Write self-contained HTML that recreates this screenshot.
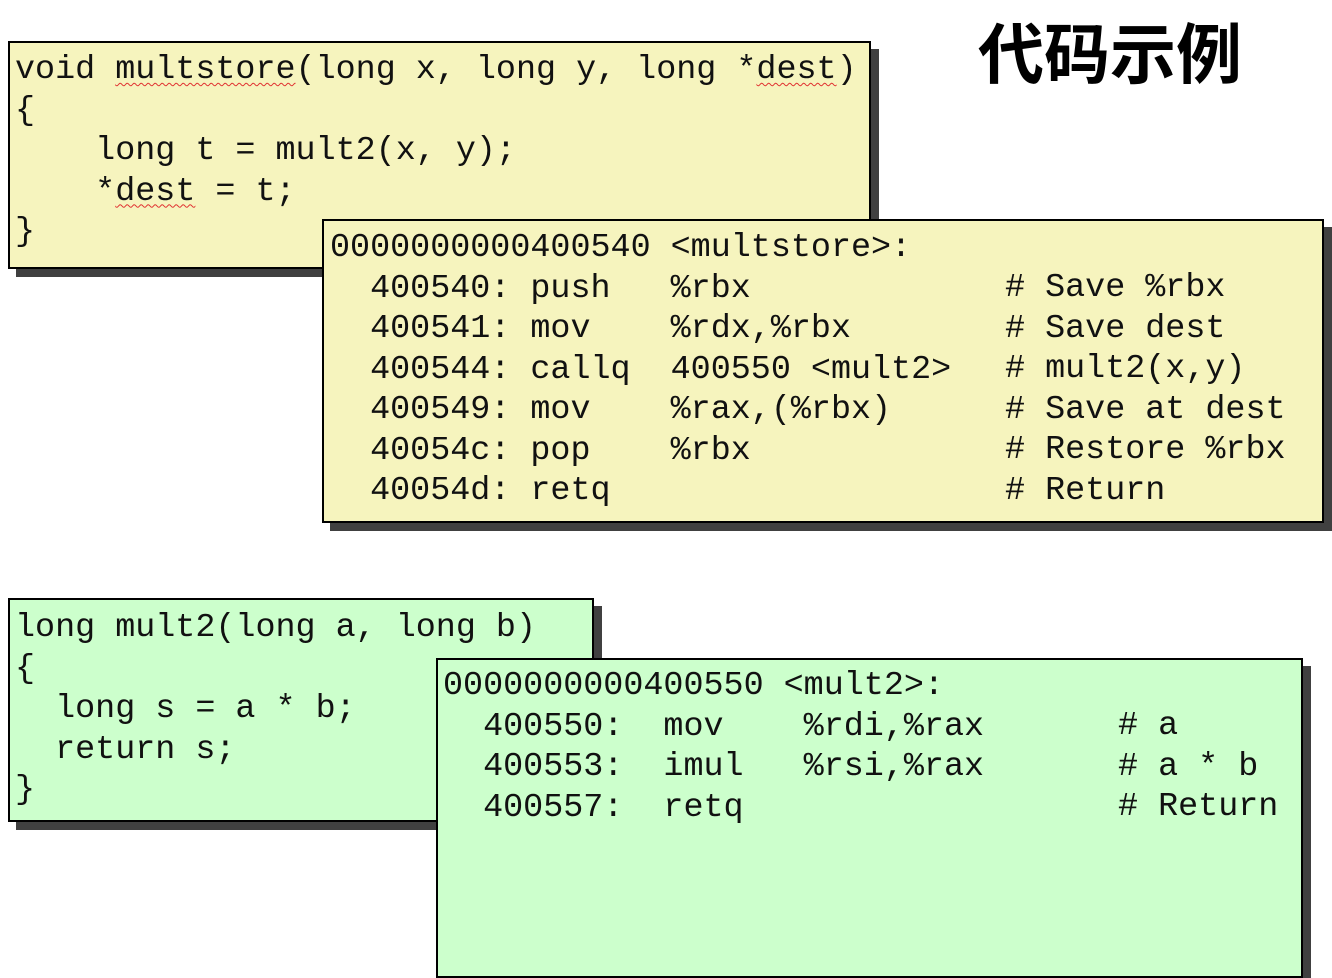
<!DOCTYPE html>
<html><head><meta charset="utf-8"><style>
body{margin:0;width:1332px;height:927px;background:#fff;position:relative;overflow:hidden;font-family:"Liberation Mono",monospace;}
.box{position:absolute;border:2px solid #000;box-sizing:border-box;box-shadow:8px 8px 0 #404040;}
.y{background:#f6f4be;}
.g{background:#ccffcc;}
.t{position:absolute;font-size:33.4px;line-height:40.5px;white-space:pre;color:#111;}
.w{text-decoration:underline wavy #e03030 1px;text-underline-offset:4px;}
h1{position:absolute;left:978px;top:2px;margin:0;font:bold 66px "Noto Sans CJK SC",sans-serif;letter-spacing:0px;}
</style></head><body>
<h1>代码示例</h1>
<div class="box y" style="left:8px;top:41px;width:863px;height:228px"></div>
<div class="t" style="left:15px;top:50px">void <span class="w">multstore</span>(long x, long y, long *<span class="w">dest</span>)
{
    long t = mult2(x, y);
    *<span class="w">dest</span> = t;
}</div>
<div class="box y" style="left:322px;top:219px;width:1002px;height:304px"></div>
<div class="t" style="left:330px;top:228px">0000000000400540 &lt;multstore&gt;:
  400540: push   %rbx
  400541: mov    %rdx,%rbx
  400544: callq  400550 &lt;mult2&gt;
  400549: mov    %rax,(%rbx)
  40054c: pop    %rbx
  40054d: retq</div>
<div class="t" style="left:1005px;top:268px"># Save %rbx
# Save dest
# mult2(x,y)
# Save at dest
# Restore %rbx
# Return</div>
<div class="box g" style="left:8px;top:598px;width:586px;height:224px"></div>
<div class="t" style="left:15px;top:608px">long mult2(long a, long b)
{
  long s = a * b;
  return s;
}</div>
<div class="box g" style="left:436px;top:658px;width:867px;height:320px"></div>
<div class="t" style="left:443px;top:666px">0000000000400550 &lt;mult2&gt;:
  400550:  mov    %rdi,%rax
  400553:  imul   %rsi,%rax
  400557:  retq</div>
<div class="t" style="left:1118px;top:706px"># a
# a * b
# Return</div>
</body></html>
